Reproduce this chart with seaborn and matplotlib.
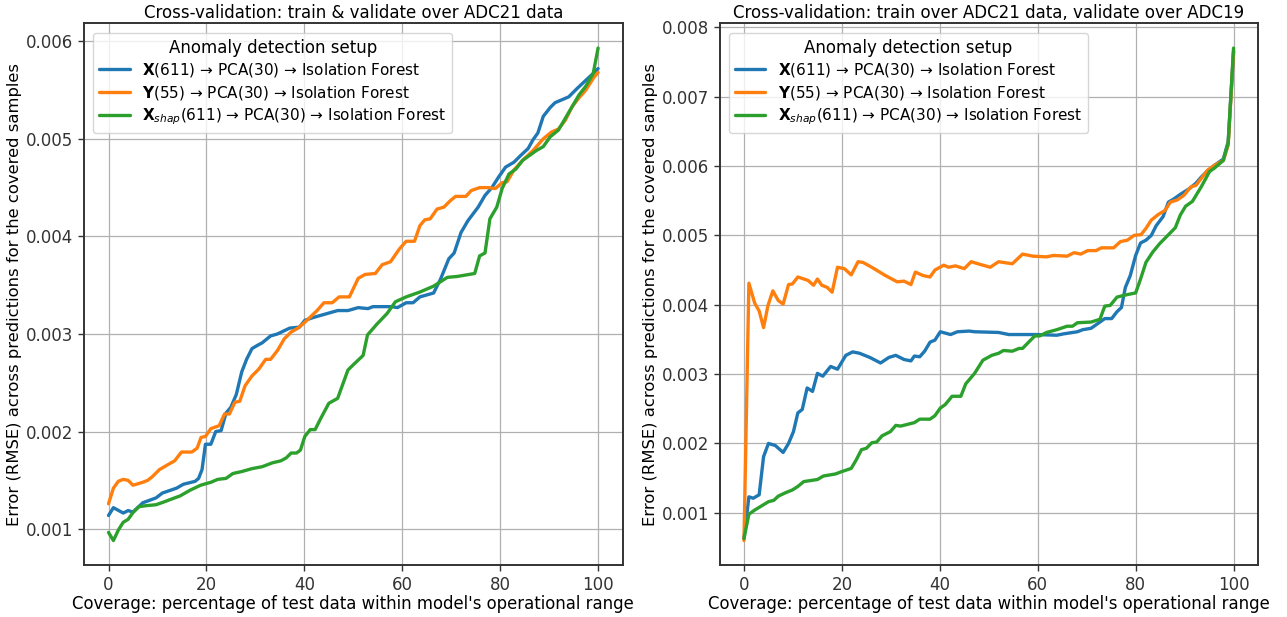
import numpy as np
import pandas as pd
import matplotlib
matplotlib.use("Agg")
import matplotlib.pyplot as plt
import seaborn as sns

sns.set_theme(style="ticks")
plt.rcParams.update({
    'font.family': ['DejaVu Sans'],
    'font.size': 11,
    'axes.titlesize': 12,
    'axes.labelsize': 11.5,
    'xtick.labelsize': 12,
    'ytick.labelsize': 12,
    'legend.fontsize': 11,
    'legend.title_fontsize': 12,
    'axes.edgecolor': '#333333',
    'axes.linewidth': 1.4,
    'axes.grid': True,
    'grid.color': '#b0b0b0',
    'grid.linewidth': 0.9,
    'xtick.color': '#333333',
    'ytick.color': '#333333',
    'xtick.major.size': 4,
    'ytick.major.size': 4,
    'xtick.major.width': 1.0,
    'ytick.major.width': 1.0,
    'text.color': 'black',
    'axes.labelcolor': 'black',
})

# ---- left panel: train & validate over ADC21 ----
l_x_x = [0, 1, 3, 4, 5, 7, 9.7, 11, 13.9, 15.3, 17.7, 18.4, 19.1, 19.8, 20.9, 21.9, 23, 24, 25,
         26.1, 27.2, 28.2, 29.3, 30.3, 31.4, 33.1, 34.5, 37, 39, 40.1, 41.9, 44, 46.8, 48.9, 51,
         53, 54, 58, 59, 60.8, 62.2, 63.6, 66.4, 67.8, 69.5, 70.6, 72, 73.4, 75.5, 76.9, 78.3,
         79.7, 81.1, 82.8, 84.2, 85.7, 86.7, 87.7, 88.8, 90.2, 91.2, 94, 95.8, 97.5, 99, 100]
l_x_y = [0.00114, 0.00122, 0.001165, 0.00119, 0.001175, 0.00127, 0.00132, 0.00137, 0.00142, 0.00146,
         0.00149, 0.00152, 0.00161, 0.00187, 0.00187, 0.0020, 0.00201, 0.00219, 0.00225,
         0.00238, 0.00261, 0.00274, 0.00285, 0.00288, 0.00291, 0.00298, 0.0030, 0.00306, 0.00307,
         0.00314, 0.00317, 0.0032, 0.00324, 0.00324, 0.00327, 0.00326, 0.00328, 0.00328, 0.00327,
         0.00332, 0.00332, 0.00338, 0.00342, 0.00356, 0.00377, 0.00383, 0.00404, 0.00416, 0.0043,
         0.00442, 0.0045, 0.00461, 0.00471, 0.00476, 0.00483, 0.0049, 0.00499, 0.00506, 0.00523,
         0.00532, 0.00537, 0.00543, 0.00552, 0.0056, 0.00567, 0.00572]

l_y_x = [0, 1, 2, 3, 4, 5, 7, 8, 9, 10.4, 12.1, 13.5, 14.9, 17, 18.1, 18.9, 19.8, 20.9, 22.6, 23.7,
         24.7, 25.8, 26.8, 27.9, 29.3, 30.7, 32.1, 33.1, 34.5, 35.9, 37.3, 38.7, 40.1, 42.6, 44,
         45.7, 47.1, 49.2, 51, 52.4, 54.5, 55.9, 57.6, 59.4, 60.8, 62.5, 63.6, 64.6, 65.7, 67.1,
         68.5, 69.9, 70.9, 73, 74.1, 75.8, 77.6, 79, 80.4, 81.4, 82.8, 84.6, 86.7, 88.8, 90.5,
         91.9, 93.3, 94.7, 96.1, 97.5, 99, 100]
l_y_y = [0.00126, 0.00142, 0.00149, 0.00151, 0.0015, 0.00145, 0.00148, 0.0015, 0.00154, 0.00161,
         0.00166, 0.0017, 0.00179, 0.00179, 0.00183, 0.00194, 0.00195, 0.00203, 0.00206, 0.00218,
         0.00218, 0.0023, 0.00231, 0.00247, 0.00257, 0.00264, 0.00274, 0.00274, 0.00283, 0.00295,
         0.00302, 0.00306, 0.00312, 0.00324, 0.00332, 0.00332, 0.00338, 0.00338, 0.00357, 0.00361,
         0.00362, 0.00371, 0.00374, 0.00387, 0.00395, 0.00395, 0.00411, 0.00417, 0.00418, 0.00428,
         0.0043, 0.00437, 0.00441, 0.00441, 0.00447, 0.0045, 0.0045, 0.00449, 0.00455, 0.00456,
         0.00468, 0.00478, 0.00488, 0.005, 0.00507, 0.0051, 0.00519, 0.00533, 0.00542, 0.0055,
         0.00562, 0.00568]

l_s_x = [0, 1, 2, 3, 4, 5, 6.2, 7.6, 9.7, 11.4, 13.5, 14.6, 16.7, 18.8, 20.9, 22.3, 24, 25.4, 27.2,
         29.3, 31.4, 33.5, 35.2, 36.3, 37.3, 38.4, 39.2, 40.1, 41.2, 42.2, 43.3, 45, 46.8, 48.9,
         49.9, 52, 52.9, 54.8, 56.9, 58.6, 60.8, 63.6, 66.4, 69.2, 71.3, 74.8, 75.8, 76.9, 77.9,
         79.3, 80.4, 81.8, 83.2, 84.6, 86, 87.4, 88.8, 90.2, 91.9, 93.3, 94.7, 96.1, 97.5, 99, 100]
l_s_y = [0.000966, 0.000883, 0.00099, 0.00107, 0.0011, 0.00117, 0.00123, 0.00124, 0.00125, 0.00128,
         0.00132, 0.00134, 0.0014, 0.00145, 0.00148, 0.00151, 0.00152, 0.00157, 0.00159, 0.00162,
         0.00164, 0.00168, 0.0017, 0.00173, 0.00178, 0.00178, 0.00181, 0.00195, 0.00202, 0.00202,
         0.00213, 0.00229, 0.00234, 0.00263, 0.00268, 0.00278, 0.00299, 0.0031, 0.00321, 0.00333,
         0.00338, 0.00343, 0.00349, 0.00358, 0.00359, 0.00362, 0.0038, 0.00383, 0.00418, 0.0043,
         0.00449, 0.00464, 0.00469, 0.00478, 0.00483, 0.00488, 0.00492, 0.00502, 0.00509, 0.00521,
         0.00533, 0.00545, 0.00554, 0.00567, 0.00593]

# ---- right panel: train over ADC21, validate over ADC19 ----
r_x_x = [0, 1, 1.9, 3.1, 4, 5, 6.4, 8, 9.1, 10.1, 11, 11.9, 12.9, 14, 15, 16.1, 17.7, 19.1, 20.8,
         22.2, 23.6, 25.7, 27.9, 29.6, 31, 32.7, 34.1, 34.8, 35.9, 36.9, 38, 39, 40.1, 42.2, 43.6,
         46, 47.1, 52, 54.1, 59.7, 63.9, 65.3, 68.1, 69.2, 70.9, 72.3, 73.7, 75.1, 76.2, 77.1,
         77.9, 78.9, 80, 81, 82.1, 83.2, 84.2, 85.6, 86.7, 87.7, 89.1, 90.9, 92.3, 93.4, 94.7,
         96.1, 97.9, 98.9, 100]
r_x_y = [0.00063, 0.00123, 0.00121, 0.00126, 0.00181, 0.002, 0.00197, 0.00187, 0.002, 0.00217,
         0.00244, 0.00249, 0.0028, 0.00275, 0.00301, 0.00297, 0.00311, 0.00307, 0.00327, 0.00332,
         0.0033, 0.00324, 0.00316, 0.00324, 0.00327, 0.00321, 0.00319, 0.00326, 0.00325, 0.00333,
         0.00346, 0.00349, 0.00361, 0.00357, 0.00361, 0.00362, 0.00361, 0.0036, 0.00357, 0.00357,
         0.00356, 0.00358, 0.00361, 0.00364, 0.00366, 0.00373, 0.0038, 0.0038, 0.0039, 0.00396,
         0.00425, 0.00442, 0.00471, 0.00489, 0.00493, 0.005, 0.00514, 0.00527, 0.00548, 0.00552,
         0.00559, 0.00567, 0.00575, 0.00584, 0.00593, 0.00601, 0.0061, 0.00635, 0.00765]

r_y_x = [0, 1, 2.2, 3.1, 4, 4.9, 5.9, 7, 8, 9.1, 9.9, 11, 13.1, 14.2, 15, 15.9, 17, 18, 19.1, 20.5,
         21.9, 23.3, 24.3, 26.1, 28.9, 31.3, 32.7, 34.1, 35, 36.6, 38, 39, 40.8, 41.8, 43.2, 45,
         46.4, 47.8, 50.3, 52, 54.8, 56.9, 59, 61.8, 63.2, 66, 67.4, 68.8, 70.2, 71.9, 73, 75.5,
         76.9, 78.3, 79.7, 81.1, 82.1, 83.2, 84.6, 86, 87.1, 88.5, 89.9, 91.3, 92.3, 93.4, 94.7,
         96.1, 97.9, 98.9, 100]
r_y_y = [0.0006, 0.00431, 0.00402, 0.00391, 0.00367, 0.00399, 0.0042, 0.00406, 0.00401, 0.00429,
         0.0043, 0.0044, 0.00435, 0.00428, 0.00437, 0.00428, 0.00425, 0.00418, 0.00454, 0.00452,
         0.00443, 0.00462, 0.00461, 0.00454, 0.00442, 0.00433, 0.00434, 0.00429, 0.00447, 0.00442,
         0.0044, 0.0045, 0.00457, 0.00454, 0.00456, 0.00452, 0.00462, 0.00459, 0.00454, 0.00462,
         0.00459, 0.00473, 0.0047, 0.00469, 0.00471, 0.0047, 0.00475, 0.00473, 0.00478, 0.00478,
         0.00482, 0.00482, 0.00491, 0.00493, 0.005, 0.00501, 0.0051, 0.00522, 0.0053, 0.00536,
         0.00548, 0.00551, 0.00558, 0.0057, 0.00572, 0.00582, 0.00594, 0.00601, 0.00608, 0.0063,
         0.00765]

r_s_x = [0, 1, 2.2, 3.6, 5, 6.1, 7, 8.5, 9.9, 11, 12.2, 15, 16.2, 18.7, 19.8, 21.9, 22.9, 24, 25,
         26.1, 27.1, 28.2, 29.9, 31, 32, 34.8, 35.9, 38, 39, 40.1, 41.1, 42.5, 44.3, 45.3, 47.1,
         48.8, 50.6, 52, 53, 54.8, 56.2, 56.9, 58, 59.4, 60.4, 61.8, 63.9, 66, 67.1, 68.1, 70.9,
         72.7, 73.7, 74.8, 76.2, 77.9, 80, 81, 82.1, 83.5, 84.9, 86.3, 88.1, 89.1, 90.2, 91.6,
         93.4, 95.1, 96.1, 97.9, 98.9, 100]
r_s_y = [0.00063, 0.00098, 0.00104, 0.0011, 0.00116, 0.00118, 0.00124, 0.00129, 0.00133, 0.00138,
         0.00145, 0.00148, 0.00153, 0.00156, 0.00159, 0.00164, 0.00176, 0.00191, 0.00193, 0.00201,
         0.00202, 0.00211, 0.00217, 0.00226, 0.00225, 0.0023, 0.00235, 0.00235, 0.0024, 0.00251,
         0.00256, 0.00268, 0.00268, 0.00286, 0.00301, 0.0032, 0.00327, 0.0033, 0.00334, 0.00333,
         0.00337, 0.00337, 0.00345, 0.00355, 0.00355, 0.0036, 0.00364, 0.00369, 0.00369, 0.00374,
         0.00375, 0.00379, 0.00398, 0.00399, 0.00411, 0.00414, 0.00417, 0.00437, 0.00461, 0.00476,
         0.00488, 0.00498, 0.00511, 0.00529, 0.00542, 0.00549, 0.0057, 0.00592, 0.00597, 0.00608,
         0.00633, 0.0077]

setups = [r'$\mathbf{X}$(611) → PCA(30) → Isolation Forest',
          r'$\mathbf{Y}$(55) → PCA(30) → Isolation Forest',
          r'$\mathbf{X}_{shap}$(611) → PCA(30) → Isolation Forest']
colors = ['#1f77b4', '#ff7f0e', '#2ca02c']

titles = ['Cross-validation: train & validate over ADC21 data',
          'Cross-validation: train over ADC21 data, validate over ADC19']


def to_frame(series):
    parts = []
    for name, (xs, ys) in zip(setups, series):
        parts.append(pd.DataFrame({'coverage': xs, 'rmse': ys, 'setup': name}))
    return pd.concat(parts, ignore_index=True)


panels = [
    to_frame([(l_x_x, l_x_y), (l_y_x, l_y_y), (l_s_x, l_s_y)]),
    to_frame([(r_x_x, r_x_y), (r_y_x, r_y_y), (r_s_x, r_s_y)]),
]

fig, axes = plt.subplots(1, 2, figsize=(12.87, 6.17), dpi=100)
fig.subplots_adjust(left=0.0653, right=0.9775, top=0.962, bottom=0.084, wspace=0.18)

for ax, df, title in zip(axes, panels, titles):
    sns.lineplot(data=df, x='coverage', y='rmse', hue='setup', hue_order=setups,
                 palette=colors, estimator=None, sort=False, linewidth=2.4, ax=ax)
    ax.set_title(title, pad=4)
    ax.set_xlabel("Coverage: percentage of test data within model's operational range",
                  fontsize=11.9, labelpad=1)
    ax.set_ylabel('Error (RMSE) across predictions for the covered samples',
                  fontsize=11.8, labelpad=3)
    ax.set_xticks([0, 20, 40, 60, 80, 100])
    ax.grid(True)
    for s in ax.spines.values():
        s.set_visible(True)
    leg = ax.legend(title='Anomaly detection setup', loc='upper left', frameon=True,
                    fancybox=True, framealpha=0.8, edgecolor='#cccccc',
                    handlelength=2.0, borderaxespad=0.6, labelspacing=0.3)
    for line in leg.get_lines():
        line.set_linewidth(2.4)

fig.savefig('out.png', dpi=100)
